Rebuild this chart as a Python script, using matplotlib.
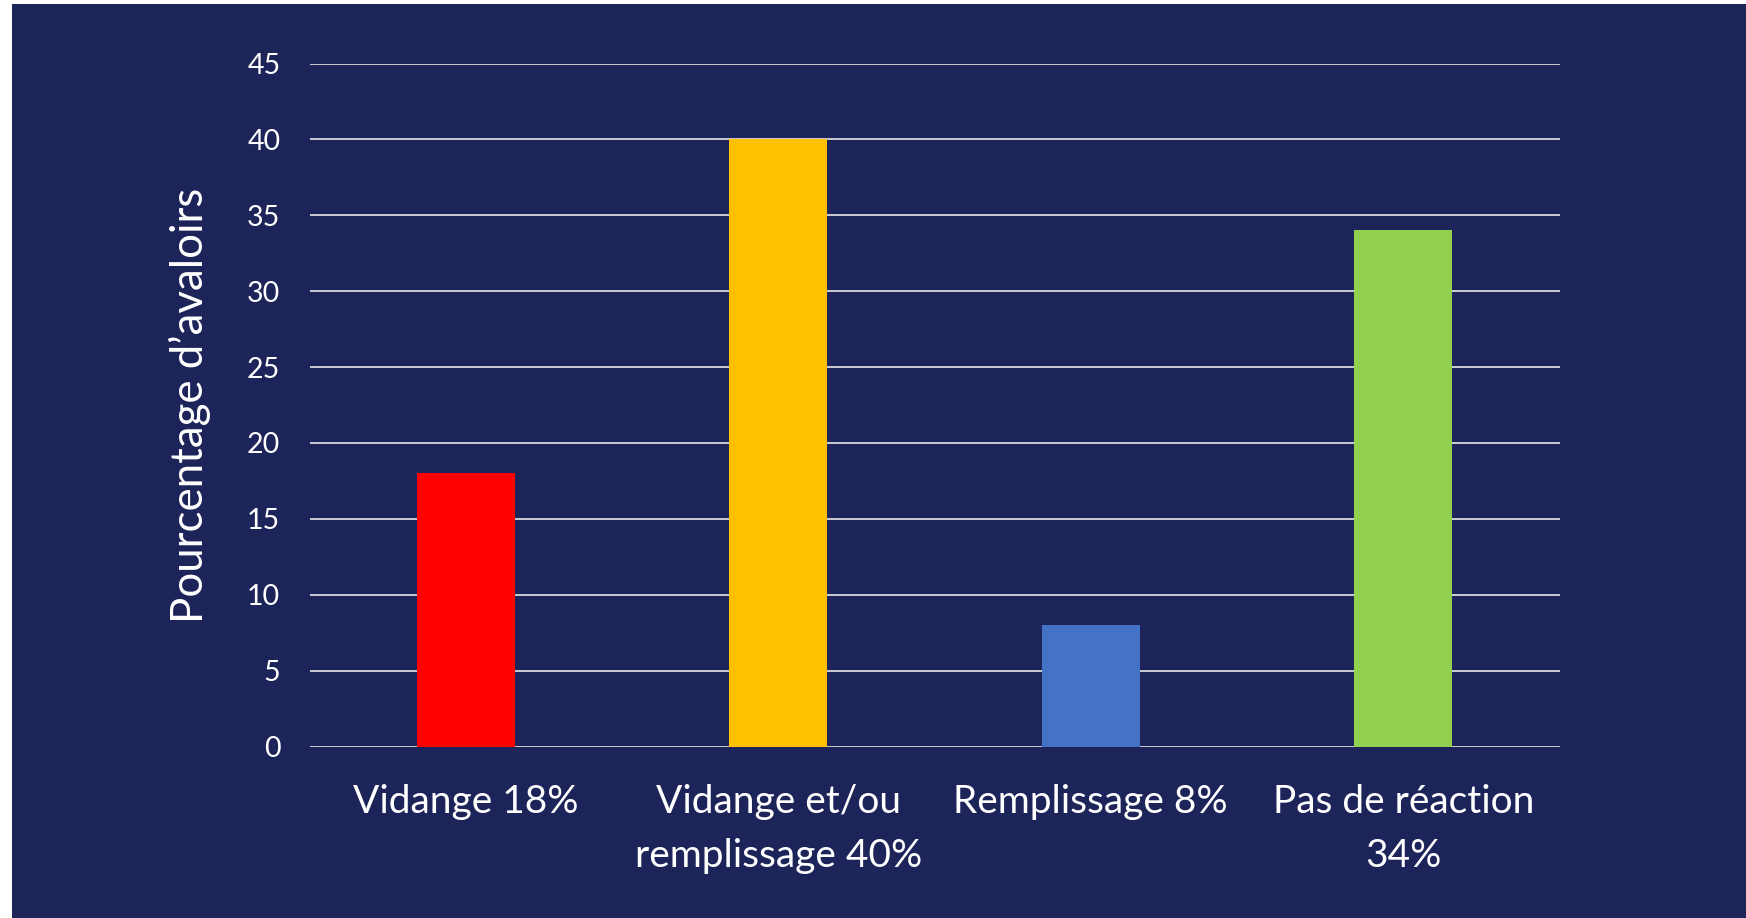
import matplotlib.pyplot as plt
from matplotlib.patches import Rectangle

categories = ["Vidange 18%", "Vidange et/ou\nremplissage 40%", "Remplissage 8%", "Pas de réaction\n34%"]
values = [18, 40, 8, 34]
colors = ["#FF0000", "#FFC000", "#4472C4", "#92D050"]
yticks = [0, 5, 10, 15, 20, 25, 30, 35, 40, 45]

bg = "#1D2459"
plt.rcParams['font.family'] = ['Lato', 'DejaVu Sans']

fig = plt.figure(figsize=(17.46, 9.18), dpi=100, facecolor=bg)
# white strips on left and top, as in the source slide
fig.patches.append(Rectangle((0, 0), 12 / 1746, 1, transform=fig.transFigure,
                             facecolor="white", edgecolor="none", zorder=-1))
fig.patches.append(Rectangle((0, 1 - 4 / 918), 1, 4 / 918, transform=fig.transFigure,
                             facecolor="white", edgecolor="none", zorder=-1))

ax = fig.add_axes([309.5 / 1746, 1 - 746.5 / 918, 1250 / 1746, 683 / 918])
ax.set_facecolor(bg)

x = range(len(categories))
ax.bar(x, values, width=0.313, color=colors, zorder=3)

ax.set_xlim(-0.5, len(categories) - 0.5)
ax.set_ylim(0, 45)
ax.set_yticks(yticks)
ax.set_xticks(list(x))
ax.set_xticklabels(categories, fontsize=28, color="white", linespacing=1.62)
ax.tick_params(axis="x", length=0, pad=27)
ax.tick_params(axis="y", length=0, pad=21, labelsize=20.5, labelcolor="white")

ax.yaxis.grid(True, color="#D9D9D9", linewidth=1.3, zorder=1)
ax.set_axisbelow(True)
for s in ax.spines.values():
    s.set_visible(False)

ax.set_ylabel("Pourcentage d\u2019avaloirs", fontsize=31.5, color="white", labelpad=26)

fig.savefig("out.png", dpi=100, facecolor=fig.get_facecolor())
